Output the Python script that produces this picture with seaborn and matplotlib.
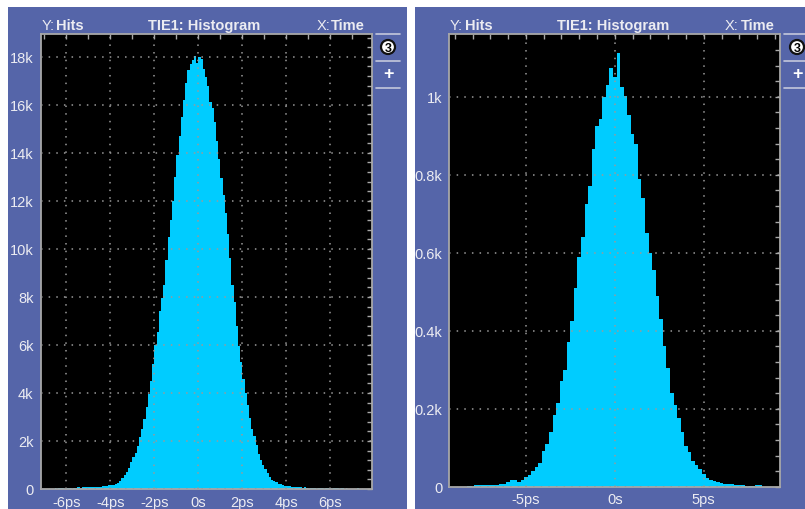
import numpy as np
import pandas as pd
import matplotlib
matplotlib.use("Agg")
import matplotlib.pyplot as plt
from matplotlib.patches import Rectangle, Ellipse
from matplotlib.lines import Line2D
import seaborn as sns

# ---------------- data (hits, in thousands) ----------------
# Left histogram: 0.1 ps bins from -7.2 ps to 7.9 ps
left_bin_start, left_bin_width, left_nbins = -7.2, 0.1, 151
left_hits_k = [
    0, 0, 0, 0, 0, 0.01, 0.02, 0.03, 0.05, 0.05,
    0.05, 0.05, 0.06, 0.05, 0.06, 0.06, 0.06, 0.07, 0.06, 0.07,
    0.07, 0.07, 0.07, 0.08, 0.08, 0.08, 0.10, 0.10, 0.11, 0.11,
    0.12, 0.15, 0.16, 0.18, 0.20, 0.26, 0.33, 0.44, 0.57, 0.72,
    0.88, 1.12, 1.32, 1.50, 1.80, 2.15, 2.50, 2.90, 3.40, 3.95,
    4.50, 5.20, 6.00, 6.55, 7.40, 7.95, 8.50, 9.55, 10.50, 11.20,
    12.00, 13.00, 13.90, 14.70, 15.50, 16.20, 16.90, 17.45, 17.70, 17.85,
    18.05, 17.75, 18.00, 17.90, 17.50, 17.15, 16.80, 16.10, 15.85, 15.30,
    14.50, 13.75, 12.95, 12.25, 11.50, 10.60, 9.60, 8.50, 7.80, 6.80,
    5.95, 5.30, 4.60, 4.00, 3.50, 2.95, 2.50, 2.20, 1.85, 1.45,
    1.20, 1.00, 0.82, 0.65, 0.50, 0.38, 0.32, 0.28, 0.22, 0.19,
    0.15, 0.13, 0.12, 0.11, 0.10, 0.09, 0.07, 0.07, 0.07, 0.06,
    0.07, 0.06, 0.06, 0.06, 0.05, 0.06, 0.05, 0.05, 0.05, 0.05,
    0.04, 0.05, 0.04, 0.04, 0.03, 0.04, 0.03, 0.03, 0.02, 0.03,
    0.02, 0.02, 0.02, 0.01, 0.03, 0.01, 0.02, 0, 0, 0, 0,
]
# Right histogram: 0.2 ps bins from -9.3 ps to 9.3 ps
right_bin_start, right_bin_width, right_nbins = -9.3, 0.2, 93
right_hits_k = [
    0, 0, 0, 0, 0, 0.003, 0.003, 0.004, 0.004, 0.004,
    0.004, 0.004, 0.004, 0.005, 0.006, 0.007, 0.011, 0.018, 0.018, 0.011,
    0.017, 0.024, 0.031, 0.040, 0.051, 0.060, 0.092, 0.110, 0.140, 0.185,
    0.215, 0.270, 0.300, 0.370, 0.426, 0.510, 0.590, 0.640, 0.725, 0.772,
    0.865, 0.925, 0.943, 1.000, 1.030, 1.075, 1.050, 1.112, 1.025, 1.003,
    0.952, 0.904, 0.880, 0.790, 0.740, 0.650, 0.600, 0.555, 0.490, 0.430,
    0.360, 0.305, 0.240, 0.210, 0.175, 0.140, 0.105, 0.090, 0.066, 0.055,
    0.045, 0.032, 0.022, 0.018, 0.015, 0.012, 0.009, 0.007, 0.008, 0.006,
    0.005, 0.004, 0.004, 0.003, 0.003, 0.003, 0.004, 0.004, 0, 0,
    0, 0, 0,
]

left_xticks = [-6, -4, -2, 0, 2, 4, 6]
left_xticklabels = ["-6ps", "-4ps", "-2ps", "0s", "2ps", "4ps", "6ps"]
left_yticks = [0, 2, 4, 6, 8, 10, 12, 14, 16, 18]
left_yticklabels = ["0", "2k", "4k", "6k", "8k", "10k", "12k", "14k", "16k", "18k"]
right_xticks = [-5, 0, 5]
right_xticklabels = ["-5ps", "0s", "5ps"]
right_yticks = [0, 0.2, 0.4, 0.6, 0.8, 1.0]
right_yticklabels = ["0", "0.2k", "0.4k", "0.6k", "0.8k", "1k"]

title_text = "TIE1: Histogram"
ylab_prefix, ylab_name = "Y:", "Hits"
xlab_prefix, xlab_name = "X:", "Time"

# ---------------- style ----------------
sns.set_theme(style="dark")
plt.rcParams["font.family"] = ["Liberation Sans", "DejaVu Sans"]

BLUE = "#5565A9"
CYAN = "#00CCFF"
GRID = "#9A9A9A"
FRAME = "#A8A8A8"
TXT = "#ECECF2"

W, H = 805, 510
fig = plt.figure(figsize=(W / 100, H / 100), dpi=100, facecolor="white")


def fx(px):
    return px / W


def fy(py):
    return 1 - py / H


# blue panels (behind everything)
fig.patches.append(Rectangle((fx(8), 0), (407 - 8) / W, fy(8), transform=fig.transFigure,
                             facecolor=BLUE, edgecolor="none", zorder=-10))
fig.patches.append(Rectangle((fx(415), 0), (805 - 415) / W, fy(8), transform=fig.transFigure,
                             facecolor=BLUE, edgecolor="none", zorder=-10))

ax1 = fig.add_axes([fx(40.5), fy(490), 331.5 / W, 455 / H])
ax2 = fig.add_axes([fx(449.3), fy(487.7), 330.7 / W, 452.7 / H])
for a in (ax1, ax2):
    a.set_zorder(5)


def draw(ax, start, width, n, vals, xlim, ylim, xt, xtl, xminor, yt, ytl, yminor):
    centers = start + width * (np.arange(n) + 0.5)
    df = pd.DataFrame({"time": centers, "hits": np.asarray(vals, dtype=float)})
    sns.histplot(data=df, x="time", weights="hits", binwidth=width,
                 binrange=(start, start + width * n), element="step",
                 fill=True, color=CYAN, alpha=1, linewidth=0, ax=ax)
    ax.set_facecolor("black")
    ax.set_xlim(*xlim)
    ax.set_ylim(*ylim)
    ax.set_xlabel("")
    ax.set_ylabel("")
    ax.set_xticks(xt, labels=xtl)
    ax.set_xticks(xminor, minor=True)
    ax.set_yticks(yt, labels=ytl)
    ax.set_yticks(yminor, minor=True)
    ax.set_axisbelow(False)
    ax.grid(True, which="major", color=GRID, linestyle=(0, (1, 4)), linewidth=1.1)
    ax.grid(False, which="minor")
    ax.tick_params(which="both", direction="in", top=True, right=True, length=3.5,
                   width=1, color=FRAME, labelcolor=TXT, labelsize=10.5,
                   labeltop=False, labelright=False)
    ax.tick_params(axis="y", pad=5)
    ax.tick_params(axis="x", pad=4)
    for s in ax.spines.values():
        s.set_color(FRAME)
        s.set_linewidth(1.3)
        s.set_visible(True)


draw(ax1, left_bin_start, left_bin_width, left_nbins, left_hits_k,
     (-7.18, 7.89), (0, 18.95), left_xticks, left_xticklabels, np.arange(-7, 8, 1),
     left_yticks, left_yticklabels, np.arange(0, 18.9, 0.4))
draw(ax2, right_bin_start, right_bin_width, right_nbins, right_hits_k,
     (-9.31, 9.29), (0, 1.161), right_xticks, right_xticklabels, np.arange(-9, 10, 1),
     right_yticks, right_yticklabels, np.arange(0, 1.16, 0.04))


# header texts
def header(x_y, x_hits, x_title, x_x, x_time):
    yy = fy(26)
    fig.text(fx(x_y), yy, ylab_prefix, color=TXT, fontsize=10.5, va="center", ha="left")
    fig.text(fx(x_hits), yy, ylab_name, color=TXT, fontsize=10.5, fontweight="bold",
             va="center", ha="left")
    fig.text(fx(x_title), yy, title_text, color=TXT, fontsize=10.5, fontweight="bold",
             va="center", ha="center")
    fig.text(fx(x_x), yy, xlab_prefix, color=TXT, fontsize=10.5, va="center", ha="left")
    fig.text(fx(x_time), yy, xlab_name, color=TXT, fontsize=10.5, fontweight="bold",
             va="center", ha="left")


header(41.5, 55.5, 204.5, 317, 330.5)
header(450, 464.5, 613.5, 725, 740.5)


# side buttons
def buttons(x0, x1, cx):
    for yy in (35, 62, 88.5):
        fig.add_artist(Line2D([fx(x0), fx(x1)], [fy(yy), fy(yy)], color="#C4C8DC",
                              linewidth=1.2, transform=fig.transFigure))
    fig.add_artist(Ellipse((fx(cx), fy(48)), 14 / W, 14 / H, transform=fig.transFigure,
                           facecolor="white", edgecolor="#111111", linewidth=1.6))
    fig.text(fx(cx), fy(48.5), "3", color="black", fontsize=9, fontweight="bold",
             ha="center", va="center")
    fig.text(fx(cx), fy(75), "+", color="white", fontsize=13, fontweight="bold",
             ha="center", va="center")


buttons(376, 400, 388)
buttons(784, 805, 797)

fig.savefig("out.png", dpi=100, facecolor="white")
